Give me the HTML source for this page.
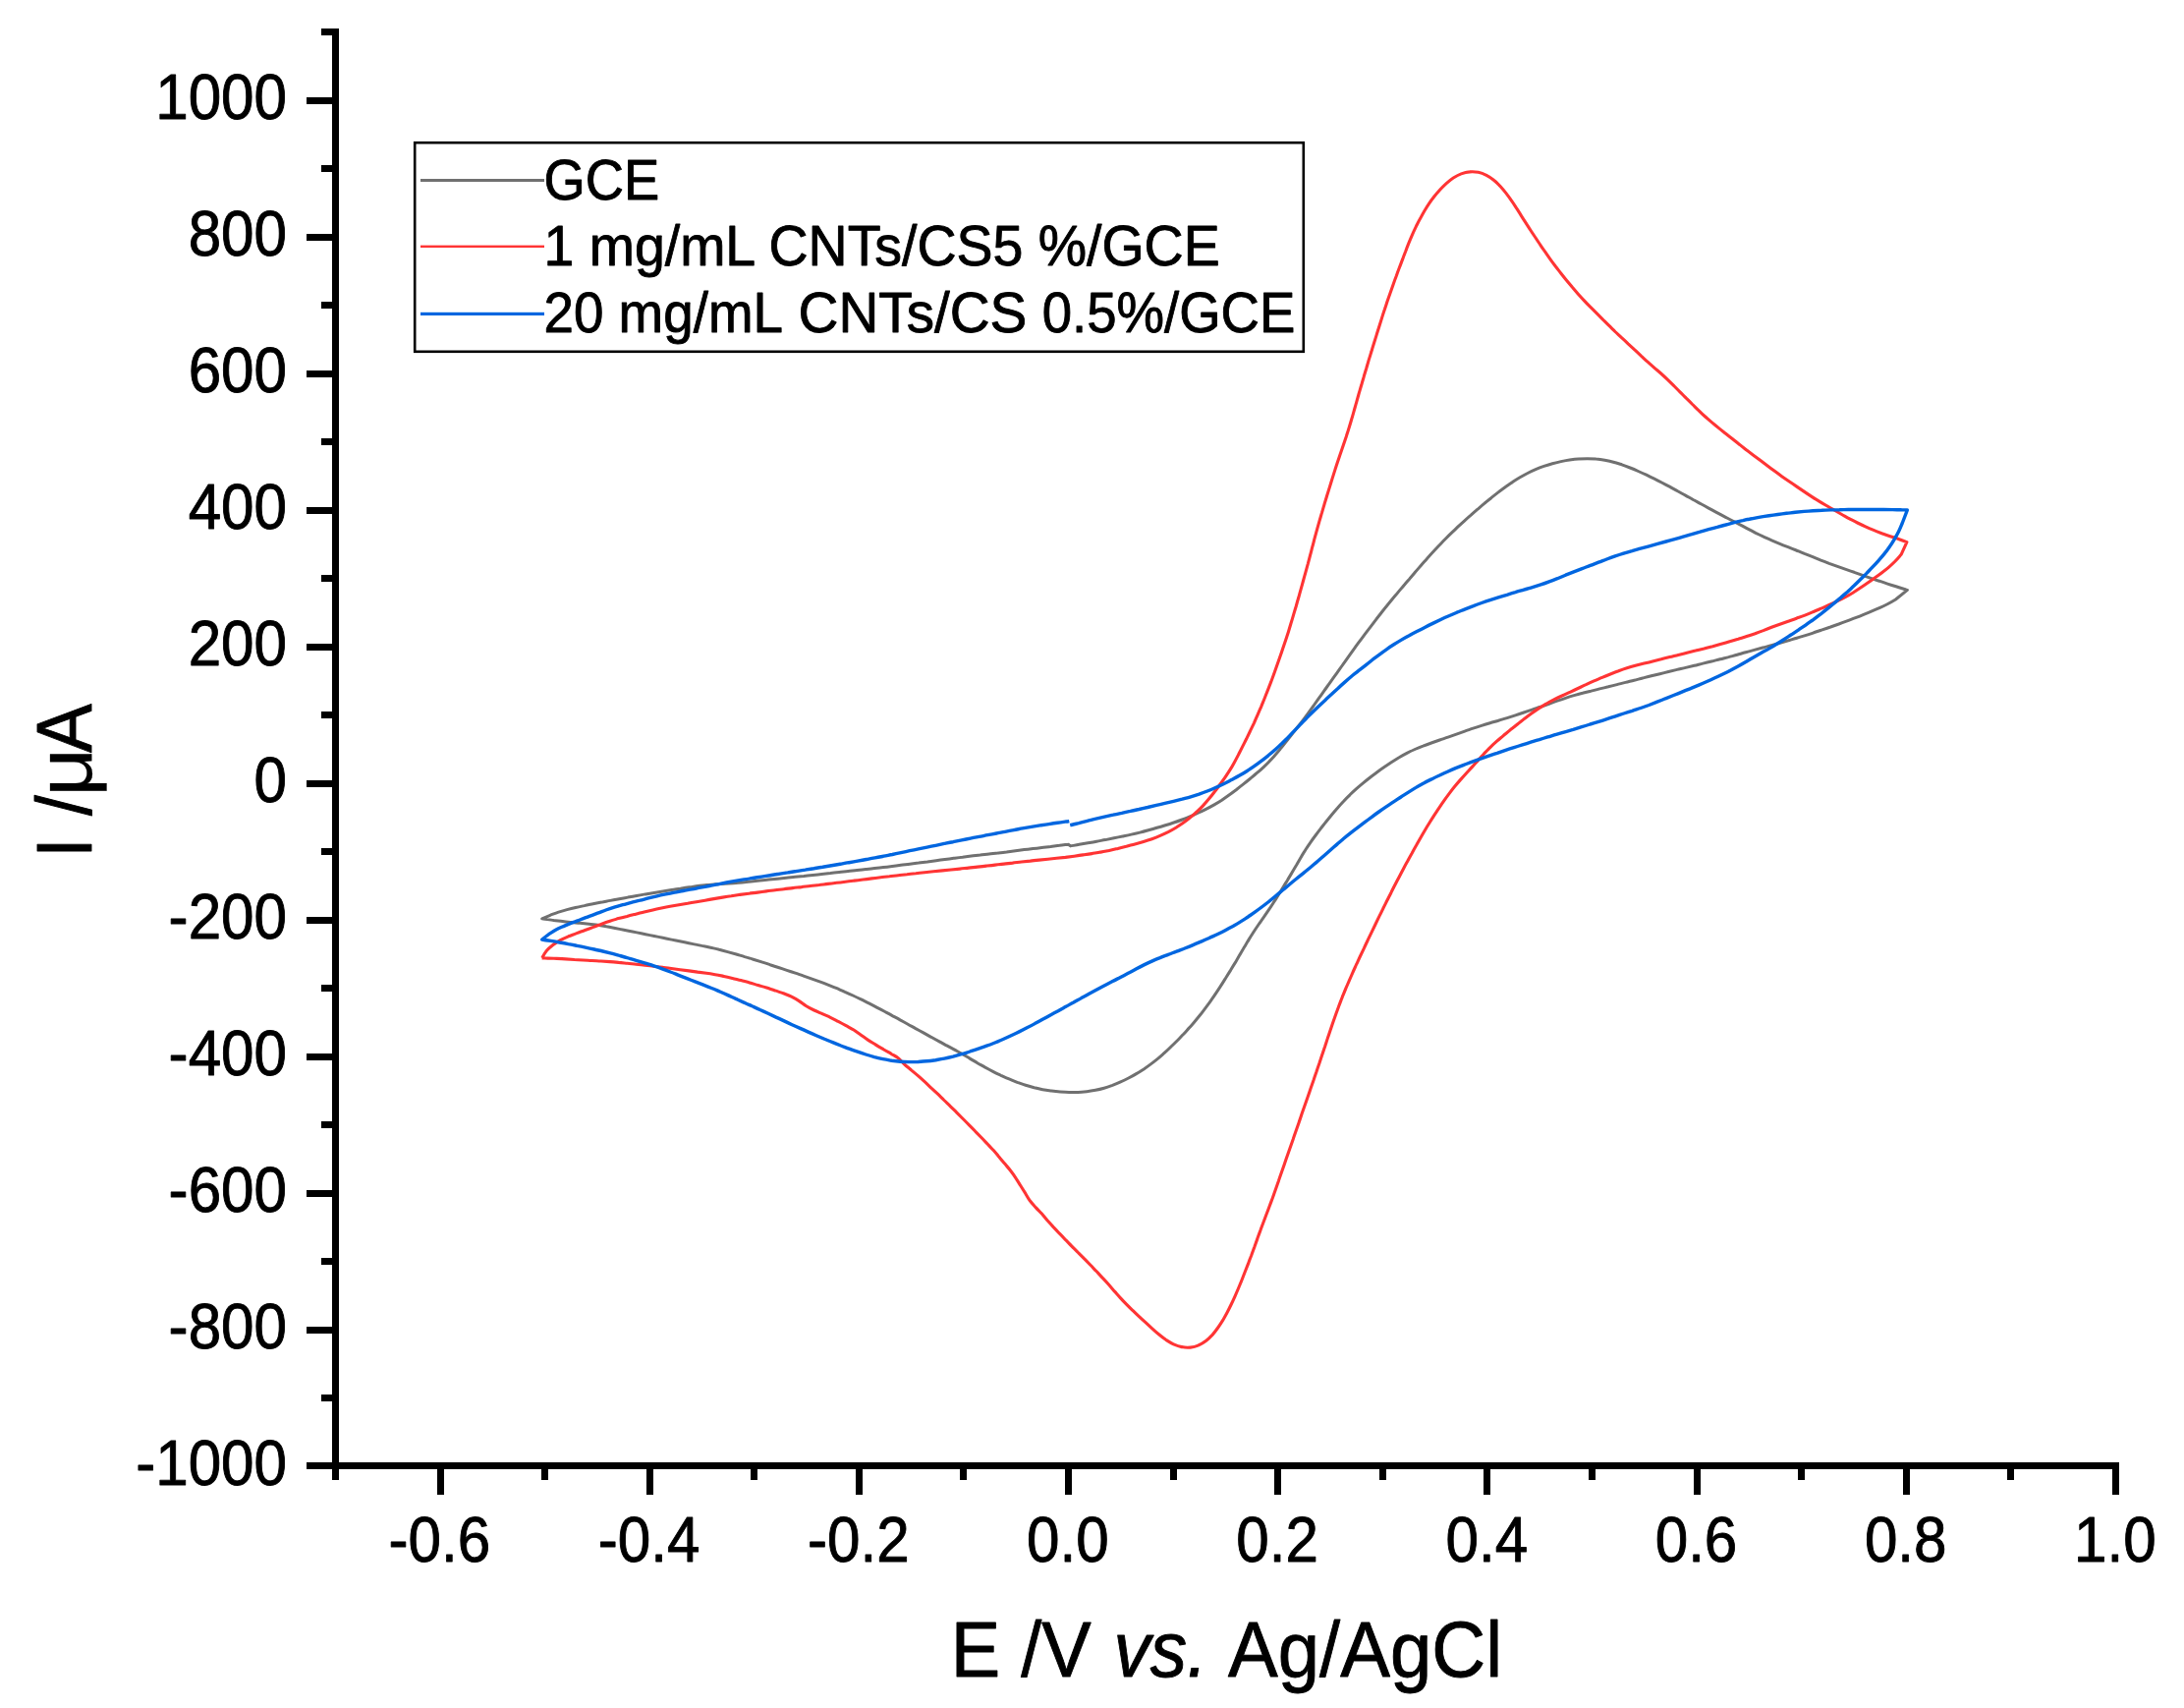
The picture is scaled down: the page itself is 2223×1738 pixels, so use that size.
<!DOCTYPE html><html><head><meta charset="utf-8"><title>CV</title>
<style>html,body{margin:0;padding:0;background:#fff}svg{display:block}text{font-family:"Liberation Sans",sans-serif;fill:#000;stroke:#000;stroke-width:0.9px;stroke-linejoin:round}</style></head><body>
<svg width="2223" height="1738" viewBox="0 0 2223 1738">
<rect width="2223" height="1738" fill="#fff"/>
<g fill="none" stroke-linejoin="round" stroke-linecap="butt">
<path d="M1089.6 860.9C1091.1 860.6 1095.5 859.9 1098.5 859.3C1101.4 858.8 1104.4 858.3 1107.3 857.8C1110.3 857.3 1113.3 856.8 1116.2 856.2C1119.2 855.7 1122.1 855.1 1125.1 854.6C1128.0 854.0 1130.9 853.4 1133.9 852.8C1136.8 852.2 1139.8 851.6 1142.7 851.0C1145.6 850.4 1148.6 849.8 1151.5 849.1C1154.4 848.5 1157.4 847.8 1160.3 847.1C1163.2 846.4 1166.1 845.6 1169.0 844.8C1171.9 844.0 1174.7 843.2 1177.6 842.3C1180.5 841.5 1183.4 840.6 1186.2 839.7C1189.1 838.9 1192.0 838.0 1194.8 837.0C1197.7 836.1 1200.5 835.1 1203.3 834.0C1206.1 833.0 1208.9 831.8 1211.7 830.7C1214.4 829.5 1217.2 828.3 1219.9 827.0C1222.6 825.8 1225.3 824.5 1228.0 823.1C1230.7 821.8 1233.3 820.4 1235.9 818.9C1238.5 817.4 1241.1 815.8 1243.6 814.2C1246.1 812.5 1248.5 810.8 1251.0 809.0C1253.4 807.3 1255.8 805.5 1258.2 803.7C1260.6 801.8 1262.9 800.0 1265.3 798.1C1267.6 796.3 1270.0 794.4 1272.3 792.5C1274.6 790.6 1277.0 788.7 1279.2 786.7C1281.5 784.8 1283.8 782.8 1285.9 780.8C1288.1 778.7 1290.3 776.6 1292.3 774.4C1294.4 772.3 1296.4 770.0 1298.4 767.8C1300.4 765.5 1302.3 763.2 1304.2 760.9C1306.1 758.6 1307.9 756.2 1309.8 753.8C1311.6 751.5 1313.5 749.1 1315.3 746.8C1317.2 744.4 1319.1 742.1 1320.9 739.7C1322.8 737.3 1324.6 735.0 1326.4 732.6C1328.2 730.2 1330.0 727.8 1331.8 725.3C1333.6 722.9 1335.3 720.5 1337.1 718.0C1338.8 715.6 1340.5 713.2 1342.3 710.7C1344.0 708.3 1345.8 705.8 1347.5 703.4C1349.2 700.9 1351.0 698.5 1352.7 696.1C1354.5 693.6 1356.2 691.2 1358.0 688.7C1359.7 686.3 1361.5 683.8 1363.2 681.4C1364.9 679.0 1366.7 676.5 1368.4 674.1C1370.2 671.6 1371.9 669.2 1373.7 666.7C1375.4 664.3 1377.1 661.9 1378.9 659.4C1380.6 657.0 1382.4 654.6 1384.2 652.1C1386.0 649.7 1387.8 647.3 1389.6 644.9C1391.4 642.5 1393.2 640.2 1395.0 637.8C1396.9 635.4 1398.7 633.0 1400.5 630.6C1402.3 628.2 1404.2 625.9 1406.0 623.5C1407.9 621.1 1409.7 618.8 1411.6 616.5C1413.5 614.1 1415.4 611.8 1417.3 609.5C1419.2 607.2 1421.2 604.9 1423.1 602.6C1425.0 600.3 1427.0 598.0 1428.9 595.7C1430.9 593.4 1432.8 591.1 1434.8 588.9C1436.7 586.6 1438.7 584.3 1440.6 582.0C1442.6 579.8 1444.5 577.5 1446.5 575.2C1448.5 573.0 1450.5 570.7 1452.5 568.5C1454.5 566.2 1456.4 564.0 1458.5 561.8C1460.5 559.6 1462.5 557.4 1464.6 555.2C1466.7 553.0 1468.8 550.9 1470.9 548.7C1473.0 546.6 1475.1 544.5 1477.3 542.4C1479.5 540.3 1481.6 538.3 1483.8 536.2C1486.0 534.2 1488.2 532.2 1490.5 530.1C1492.7 528.1 1494.9 526.1 1497.2 524.2C1499.4 522.2 1501.7 520.2 1504.0 518.2C1506.2 516.3 1508.5 514.3 1510.8 512.4C1513.1 510.5 1515.4 508.5 1517.8 506.7C1520.1 504.8 1522.4 502.9 1524.8 501.1C1527.2 499.3 1529.6 497.5 1532.0 495.7C1534.5 494.0 1536.9 492.2 1539.5 490.6C1542.0 488.9 1544.5 487.3 1547.1 485.8C1549.7 484.3 1552.3 482.8 1554.9 481.5C1557.6 480.1 1560.3 478.9 1563.1 477.7C1565.8 476.5 1568.6 475.4 1571.5 474.4C1574.3 473.5 1577.2 472.6 1580.1 471.8C1582.9 471.0 1585.9 470.2 1588.8 469.6C1591.7 469.0 1594.7 468.4 1597.6 468.0C1600.6 467.6 1603.6 467.2 1606.6 467.0C1609.6 466.8 1612.6 466.7 1615.6 466.7C1618.6 466.7 1621.6 466.8 1624.5 467.1C1627.5 467.3 1630.5 467.7 1633.4 468.2C1636.4 468.8 1639.3 469.4 1642.2 470.2C1645.1 471.0 1647.9 471.9 1650.8 472.8C1653.6 473.8 1656.4 474.9 1659.2 476.0C1662.0 477.1 1664.8 478.3 1667.5 479.5C1670.3 480.7 1673.0 481.9 1675.7 483.2C1678.4 484.5 1681.1 485.8 1683.8 487.1C1686.5 488.4 1689.2 489.8 1691.8 491.2C1694.5 492.6 1697.1 494.0 1699.8 495.4C1702.4 496.9 1705.1 498.3 1707.7 499.8C1710.3 501.2 1712.9 502.7 1715.6 504.1C1718.2 505.6 1720.8 507.0 1723.4 508.5C1726.1 509.9 1728.7 511.4 1731.3 512.8C1734.0 514.3 1736.6 515.7 1739.2 517.1C1741.9 518.6 1744.5 520.0 1747.1 521.4C1749.8 522.8 1752.5 524.2 1755.1 525.6C1757.8 527.0 1760.5 528.3 1763.1 529.7C1765.8 531.1 1768.5 532.4 1771.1 533.9C1773.8 535.3 1776.4 536.7 1779.0 538.1C1781.7 539.5 1784.3 540.9 1787.0 542.3C1789.7 543.6 1792.4 544.9 1795.1 546.2C1797.8 547.4 1800.6 548.7 1803.3 549.8C1806.1 551.0 1808.9 552.2 1811.6 553.3C1814.4 554.5 1817.2 555.6 1820.0 556.7C1822.8 557.8 1825.6 558.9 1828.4 560.0C1831.1 561.1 1833.9 562.2 1836.7 563.4C1839.5 564.5 1842.3 565.6 1845.1 566.7C1847.9 567.8 1850.6 569.0 1853.4 570.1C1856.2 571.1 1859.0 572.2 1861.8 573.3C1864.6 574.3 1867.5 575.4 1870.3 576.4C1873.1 577.4 1875.9 578.4 1878.8 579.4C1881.6 580.4 1884.4 581.4 1887.3 582.3C1890.1 583.3 1892.9 584.3 1895.8 585.3C1898.6 586.3 1901.4 587.3 1904.3 588.3C1907.1 589.3 1909.9 590.3 1912.8 591.2C1915.6 592.2 1918.5 593.2 1921.3 594.1C1924.2 595.0 1927.0 595.9 1929.9 596.8C1932.8 597.7 1936.6 598.9 1938.5 599.5C1940.4 600.1 1940.9 600.2 1941.4 600.4L1929.5 610.0C1928.2 610.8 1924.3 613.1 1921.6 614.5C1919.0 615.8 1916.3 617.1 1913.5 618.4C1910.8 619.6 1908.0 620.8 1905.3 621.9C1902.5 623.1 1899.7 624.2 1896.9 625.3C1894.1 626.5 1891.4 627.6 1888.6 628.7C1885.8 629.8 1883.0 630.8 1880.1 631.9C1877.3 632.9 1874.5 633.9 1871.7 635.0C1868.8 636.0 1866.0 637.0 1863.2 638.0C1860.3 638.9 1857.5 639.9 1854.7 640.9C1851.8 641.9 1849.0 642.9 1846.1 643.8C1843.3 644.8 1840.4 645.7 1837.6 646.6C1834.7 647.5 1831.8 648.3 1828.9 649.2C1826.1 650.1 1823.2 650.9 1820.3 651.8C1817.4 652.6 1814.6 653.5 1811.7 654.3C1808.8 655.1 1805.9 655.9 1803.0 656.7C1800.1 657.5 1797.2 658.2 1794.3 659.0C1791.4 659.8 1788.5 660.6 1785.6 661.4C1782.7 662.2 1779.8 663.0 1776.9 663.8C1774.0 664.6 1771.1 665.5 1768.3 666.3C1765.4 667.1 1762.5 667.8 1759.5 668.6C1756.6 669.3 1753.7 670.1 1750.8 670.8C1747.9 671.5 1745.0 672.3 1742.1 673.0C1739.2 673.7 1736.2 674.4 1733.3 675.1C1730.4 675.8 1727.5 676.6 1724.6 677.3C1721.6 678.0 1718.7 678.7 1715.8 679.4C1712.9 680.1 1710.0 680.7 1707.0 681.4C1704.1 682.1 1701.2 682.8 1698.3 683.5C1695.4 684.2 1692.4 685.0 1689.5 685.7C1686.6 686.4 1683.7 687.1 1680.8 687.8C1677.9 688.6 1674.9 689.3 1672.0 690.0C1669.1 690.7 1666.2 691.5 1663.3 692.2C1660.4 692.9 1657.5 693.7 1654.6 694.4C1651.6 695.1 1648.7 695.9 1645.8 696.6C1642.9 697.3 1640.0 698.0 1637.1 698.8C1634.2 699.5 1631.2 700.2 1628.3 700.9C1625.4 701.7 1622.5 702.4 1619.6 703.1C1616.7 703.8 1613.7 704.5 1610.8 705.3C1607.9 706.0 1605.0 706.8 1602.1 707.6C1599.3 708.4 1596.4 709.3 1593.5 710.3C1590.7 711.2 1587.9 712.2 1585.1 713.2C1582.2 714.3 1579.4 715.3 1576.6 716.3C1573.7 717.3 1570.9 718.3 1568.1 719.3C1565.2 720.2 1562.4 721.2 1559.5 722.1C1556.7 723.1 1553.8 724.1 1551.0 725.0C1548.2 726.0 1545.3 727.0 1542.5 727.9C1539.6 728.8 1536.7 729.7 1533.9 730.6C1531.0 731.5 1528.1 732.3 1525.2 733.2C1522.4 734.0 1519.5 734.9 1516.6 735.7C1513.7 736.6 1510.9 737.5 1508.0 738.4C1505.1 739.3 1502.3 740.2 1499.4 741.2C1496.6 742.2 1493.7 743.1 1490.9 744.1C1488.1 745.1 1485.2 746.1 1482.4 747.1C1479.6 748.1 1476.7 749.1 1473.9 750.1C1471.1 751.1 1468.2 752.0 1465.4 753.0C1462.5 754.0 1459.7 755.0 1456.9 756.0C1454.0 757.0 1451.2 758.0 1448.4 759.1C1445.6 760.1 1442.8 761.3 1440.1 762.5C1437.4 763.7 1434.7 765.0 1432.0 766.4C1429.3 767.8 1426.7 769.2 1424.1 770.8C1421.5 772.3 1419.0 773.9 1416.5 775.5C1414.0 777.2 1411.5 778.9 1409.0 780.6C1406.5 782.3 1404.1 784.0 1401.7 785.8C1399.2 787.6 1396.8 789.3 1394.4 791.2C1392.1 793.0 1389.7 794.9 1387.4 796.8C1385.1 798.7 1382.8 800.6 1380.6 802.6C1378.3 804.6 1376.1 806.7 1374.0 808.8C1371.8 810.9 1369.7 813.0 1367.7 815.2C1365.6 817.4 1363.6 819.6 1361.6 821.9C1359.7 824.1 1357.7 826.4 1355.8 828.7C1353.9 831.0 1352.0 833.4 1350.1 835.7C1348.2 838.0 1346.4 840.4 1344.5 842.8C1342.7 845.2 1340.9 847.6 1339.1 850.0C1337.3 852.4 1335.5 854.8 1333.8 857.3C1332.1 859.7 1330.4 862.2 1328.8 864.7C1327.2 867.3 1325.6 869.8 1324.1 872.4C1322.6 875.0 1321.1 877.6 1319.6 880.2C1318.0 882.8 1316.5 885.4 1315.0 888.0C1313.5 890.6 1311.9 893.1 1310.4 895.7C1308.8 898.3 1307.2 900.8 1305.7 903.4C1304.1 906.0 1302.5 908.5 1300.9 911.1C1299.4 913.6 1297.8 916.2 1296.1 918.7C1294.5 921.2 1292.9 923.7 1291.2 926.2C1289.5 928.7 1287.8 931.2 1286.1 933.6C1284.4 936.1 1282.6 938.5 1280.9 941.0C1279.2 943.5 1277.5 946.0 1275.9 948.5C1274.3 951.0 1272.7 953.5 1271.1 956.1C1269.5 958.7 1268.0 961.3 1266.5 963.8C1265.0 966.4 1263.5 969.0 1261.9 971.6C1260.4 974.2 1258.9 976.8 1257.4 979.4C1255.8 981.9 1254.2 984.5 1252.7 987.1C1251.1 989.6 1249.5 992.2 1247.9 994.7C1246.3 997.3 1244.8 999.8 1243.1 1002.4C1241.5 1004.9 1239.9 1007.4 1238.2 1009.9C1236.6 1012.4 1234.8 1014.9 1233.1 1017.3C1231.4 1019.8 1229.6 1022.2 1227.8 1024.6C1226.0 1027.0 1224.2 1029.4 1222.4 1031.8C1220.5 1034.1 1218.6 1036.5 1216.7 1038.8C1214.8 1041.1 1212.8 1043.3 1210.8 1045.6C1208.8 1047.8 1206.7 1050.0 1204.7 1052.2C1202.6 1054.4 1200.5 1056.5 1198.4 1058.7C1196.3 1060.8 1194.2 1062.9 1192.0 1065.0C1189.9 1067.1 1187.7 1069.2 1185.5 1071.2C1183.2 1073.2 1181.0 1075.2 1178.7 1077.1C1176.3 1079.0 1174.0 1080.9 1171.6 1082.6C1169.2 1084.4 1166.7 1086.2 1164.2 1087.9C1161.7 1089.5 1159.2 1091.1 1156.6 1092.6C1154.0 1094.2 1151.4 1095.6 1148.7 1097.0C1146.1 1098.4 1143.4 1099.7 1140.6 1100.9C1137.9 1102.2 1135.1 1103.3 1132.3 1104.4C1129.5 1105.4 1126.7 1106.4 1123.8 1107.2C1120.9 1108.0 1118.0 1108.7 1115.1 1109.3C1112.1 1109.9 1109.1 1110.4 1106.2 1110.7C1103.2 1111.0 1100.2 1111.3 1097.2 1111.4C1094.2 1111.5 1091.2 1111.5 1088.2 1111.4C1085.2 1111.4 1082.2 1111.2 1079.2 1111.0C1076.2 1110.8 1073.2 1110.5 1070.2 1110.1C1067.3 1109.7 1064.3 1109.3 1061.3 1108.7C1058.4 1108.1 1055.5 1107.5 1052.6 1106.8C1049.7 1106.0 1046.8 1105.2 1043.9 1104.3C1041.1 1103.4 1038.2 1102.3 1035.4 1101.3C1032.6 1100.2 1029.8 1099.1 1027.1 1097.9C1024.3 1096.8 1021.5 1095.5 1018.8 1094.3C1016.1 1093.0 1013.4 1091.7 1010.7 1090.3C1008.1 1088.9 1005.4 1087.5 1002.8 1086.1C1000.2 1084.6 997.5 1083.2 994.9 1081.7C992.3 1080.2 989.8 1078.6 987.2 1077.1C984.6 1075.6 982.0 1074.0 979.4 1072.5C976.8 1071.0 974.2 1069.6 971.5 1068.1C968.9 1066.7 966.3 1065.3 963.6 1063.9C961.0 1062.5 958.3 1061.1 955.7 1059.6C953.0 1058.2 950.4 1056.8 947.8 1055.3C945.1 1053.9 942.5 1052.4 939.9 1050.9C937.3 1049.5 934.6 1048.0 932.0 1046.6C929.4 1045.1 926.7 1043.7 924.1 1042.2C921.5 1040.8 918.8 1039.3 916.2 1037.9C913.6 1036.4 910.9 1035.0 908.3 1033.6C905.7 1032.1 903.0 1030.7 900.4 1029.3C897.7 1027.9 895.1 1026.5 892.4 1025.1C889.8 1023.7 887.1 1022.3 884.4 1020.9C881.7 1019.6 879.1 1018.2 876.4 1016.9C873.7 1015.6 871.0 1014.3 868.2 1013.0C865.5 1011.7 862.8 1010.5 860.0 1009.3C857.3 1008.0 854.5 1006.9 851.8 1005.7C849.0 1004.5 846.2 1003.4 843.4 1002.3C840.6 1001.2 837.8 1000.1 835.0 999.1C832.2 998.1 829.4 997.1 826.5 996.1C823.7 995.1 820.8 994.1 818.0 993.1C815.2 992.1 812.3 991.2 809.5 990.2C806.6 989.2 803.8 988.3 800.9 987.3C798.1 986.4 795.2 985.4 792.4 984.5C789.5 983.5 786.7 982.6 783.8 981.7C781.0 980.7 778.1 979.8 775.3 978.9C772.4 978.0 769.5 977.1 766.7 976.2C763.8 975.3 760.9 974.4 758.0 973.6C755.2 972.7 752.3 971.9 749.4 971.0C746.5 970.2 743.6 969.4 740.7 968.6C737.8 967.8 734.9 967.0 732.0 966.3C729.1 965.5 726.2 964.9 723.3 964.2C720.3 963.6 717.4 963.0 714.4 962.4C711.5 961.7 708.6 961.2 705.6 960.6C702.7 960.0 699.7 959.4 696.8 958.8C693.8 958.2 690.9 957.6 688.0 957.0C685.0 956.4 682.1 955.8 679.1 955.2C676.2 954.6 673.2 954.0 670.3 953.4C667.4 952.8 664.4 952.2 661.5 951.6C658.5 951.0 655.6 950.4 652.6 949.8C649.7 949.2 646.7 948.6 643.8 948.0C640.9 947.5 637.9 946.9 635.0 946.3C632.0 945.7 629.1 945.1 626.1 944.5C623.2 943.9 620.2 943.3 617.3 942.8C614.3 942.2 611.4 941.7 608.4 941.3C605.4 940.9 602.5 940.6 599.5 940.2C596.5 939.9 593.5 939.6 590.5 939.3C587.5 939.0 584.5 938.8 581.5 938.5C578.6 938.2 575.6 937.9 572.6 937.5C569.6 937.2 566.6 936.8 563.6 936.5C560.7 936.1 556.7 935.5 554.7 935.3C552.7 935.0 552.2 934.9 551.7 934.8L560.0 931.3C561.4 930.8 565.6 929.0 568.5 928.1C571.3 927.2 574.2 926.4 577.1 925.6C580.0 924.9 583.0 924.2 585.9 923.5C588.8 922.8 591.8 922.2 594.7 921.6C597.7 920.9 600.6 920.4 603.6 919.8C606.5 919.2 609.5 918.6 612.5 918.1C615.4 917.5 618.4 917.0 621.3 916.4C624.3 915.8 627.3 915.3 630.2 914.8C633.2 914.2 636.1 913.7 639.1 913.1C642.1 912.6 645.0 912.1 648.0 911.5C651.0 911.0 653.9 910.5 656.9 909.9C659.8 909.4 662.8 908.9 665.8 908.4C668.7 907.9 671.7 907.4 674.7 906.9C677.7 906.4 680.6 906.0 683.6 905.5C686.6 905.1 689.6 904.6 692.5 904.2C695.5 903.7 698.5 903.2 701.5 902.8C704.5 902.4 707.4 901.9 710.4 901.5C713.4 901.2 716.4 900.8 719.4 900.5C722.4 900.2 725.4 900.1 728.4 899.8C731.4 899.6 734.4 899.5 737.4 899.3C740.4 899.1 743.4 898.9 746.4 898.7C749.4 898.4 752.4 898.1 755.4 897.9C758.4 897.6 761.4 897.3 764.4 897.0C767.4 896.7 770.4 896.4 773.4 896.1C776.4 895.8 779.4 895.5 782.4 895.1C785.4 894.8 788.4 894.5 791.4 894.2C794.3 893.9 797.3 893.6 800.3 893.3C803.3 893.0 806.3 892.6 809.3 892.3C812.3 892.0 815.3 891.7 818.3 891.4C821.3 891.0 824.3 890.7 827.3 890.4C830.3 890.1 833.3 889.8 836.3 889.4C839.3 889.1 842.2 888.8 845.2 888.5C848.2 888.1 851.2 887.8 854.2 887.5C857.2 887.2 860.2 886.8 863.2 886.5C866.2 886.2 869.2 885.8 872.2 885.5C875.2 885.2 878.2 884.9 881.2 884.5C884.1 884.2 887.1 883.9 890.1 883.5C893.1 883.2 896.1 882.9 899.1 882.5C902.1 882.2 905.1 881.8 908.1 881.4C911.1 881.1 914.1 880.7 917.0 880.3C920.0 879.9 923.0 879.6 926.0 879.2C929.0 878.8 932.0 878.4 935.0 878.1C937.9 877.7 940.9 877.3 943.9 876.9C946.9 876.5 949.9 876.1 952.9 875.7C955.9 875.3 958.8 874.9 961.8 874.5C964.8 874.1 967.8 873.7 970.8 873.3C973.8 872.9 976.7 872.5 979.7 872.2C982.7 871.8 985.7 871.4 988.7 871.1C991.7 870.8 994.7 870.4 997.7 870.1C1000.7 869.7 1003.7 869.4 1006.7 869.0C1009.6 868.7 1012.6 868.3 1015.6 868.0C1018.6 867.6 1021.6 867.2 1024.6 866.9C1027.6 866.5 1030.6 866.1 1033.6 865.7C1036.5 865.4 1039.5 865.0 1042.5 864.6C1045.5 864.3 1048.5 863.9 1051.5 863.5C1054.5 863.2 1057.5 862.8 1060.4 862.4C1063.4 862.1 1066.4 861.7 1069.4 861.4C1072.4 861.0 1075.4 860.6 1078.4 860.3C1081.4 859.9 1085.9 859.4 1087.4 859.2Z" stroke="#707070" stroke-width="3.0"/>
<path d="M551.7 974.9C552.5 973.7 554.4 969.6 556.3 967.4C558.2 965.2 560.6 963.3 562.9 961.5C565.3 959.7 567.8 958.1 570.4 956.6C573.1 955.2 575.8 954.0 578.6 952.8C581.4 951.7 584.2 950.7 587.0 949.6C589.8 948.5 592.7 947.6 595.5 946.5C598.3 945.5 601.2 944.4 604.0 943.4C606.8 942.3 609.6 941.3 612.4 940.2C615.2 939.2 618.1 938.2 620.9 937.3C623.8 936.3 626.6 935.5 629.5 934.6C632.4 933.8 635.3 933.1 638.2 932.4C641.1 931.6 644.1 930.9 647.0 930.2C649.9 929.5 652.8 928.7 655.7 928.0C658.6 927.3 661.6 926.6 664.5 925.9C667.4 925.2 670.3 924.6 673.3 924.0C676.2 923.4 679.2 922.8 682.1 922.3C685.1 921.8 688.1 921.3 691.0 920.8C694.0 920.3 696.9 919.8 699.9 919.3C702.9 918.7 705.8 918.2 708.8 917.7C711.7 917.2 714.7 916.7 717.7 916.2C720.6 915.7 723.6 915.1 726.5 914.6C729.5 914.1 732.5 913.6 735.4 913.1C738.4 912.6 741.4 912.1 744.3 911.7C747.3 911.2 750.3 910.8 753.2 910.4C756.2 910.0 759.2 909.6 762.2 909.2C765.2 908.8 768.1 908.5 771.1 908.1C774.1 907.7 777.1 907.3 780.1 906.9C783.0 906.5 786.0 906.2 789.0 905.8C792.0 905.4 795.0 905.1 797.9 904.7C800.9 904.3 803.9 904.0 806.9 903.6C809.9 903.3 812.9 902.9 815.8 902.6C818.8 902.2 821.8 901.9 824.8 901.5C827.8 901.2 830.8 900.8 833.7 900.5C836.7 900.1 839.7 899.8 842.7 899.4C845.7 899.1 848.7 898.7 851.6 898.3C854.6 898.0 857.6 897.6 860.6 897.2C863.6 896.9 866.5 896.5 869.5 896.1C872.5 895.8 875.5 895.4 878.5 895.0C881.4 894.7 884.4 894.3 887.4 893.9C890.4 893.6 893.4 893.2 896.4 892.8C899.3 892.5 902.3 892.1 905.3 891.8C908.3 891.4 911.3 891.1 914.3 890.7C917.2 890.4 920.2 890.0 923.2 889.7C926.2 889.3 929.2 889.0 932.2 888.7C935.2 888.3 938.1 888.0 941.1 887.7C944.1 887.4 947.1 887.1 950.1 886.8C953.1 886.5 956.1 886.2 959.1 885.9C962.0 885.6 965.0 885.3 968.0 885.0C971.0 884.7 974.0 884.4 977.0 884.1C980.0 883.8 983.0 883.4 985.9 883.1C988.9 882.8 991.9 882.4 994.9 882.1C997.9 881.8 1000.9 881.5 1003.9 881.1C1006.8 880.8 1009.8 880.5 1012.8 880.1C1015.8 879.8 1018.8 879.5 1021.8 879.1C1024.8 878.8 1027.7 878.4 1030.7 878.1C1033.7 877.7 1036.7 877.4 1039.7 877.0C1042.7 876.7 1045.7 876.4 1048.6 876.1C1051.6 875.7 1054.6 875.4 1057.6 875.1C1060.6 874.8 1063.6 874.5 1066.6 874.2C1069.6 873.9 1072.5 873.6 1075.5 873.3C1078.5 873.0 1081.5 872.7 1084.5 872.4C1087.5 872.0 1090.5 871.6 1093.4 871.2C1096.4 870.8 1099.4 870.4 1102.4 869.9C1105.3 869.5 1108.3 869.1 1111.3 868.6C1114.2 868.1 1117.2 867.7 1120.2 867.1C1123.1 866.6 1126.0 866.0 1129.0 865.4C1131.9 864.8 1134.8 864.1 1137.8 863.4C1140.7 862.6 1143.6 861.9 1146.5 861.2C1149.4 860.4 1152.3 859.7 1155.2 858.9C1158.1 858.2 1161.0 857.4 1163.9 856.5C1166.8 855.6 1169.6 854.7 1172.5 853.7C1175.3 852.7 1178.1 851.6 1180.8 850.4C1183.6 849.2 1186.3 847.9 1189.0 846.6C1191.7 845.2 1194.3 843.8 1196.9 842.2C1199.4 840.7 1201.9 839.0 1204.4 837.3C1206.8 835.6 1209.2 833.7 1211.5 831.8C1213.9 830.0 1216.2 828.0 1218.3 825.9C1220.5 823.9 1222.7 821.8 1224.7 819.6C1226.7 817.4 1228.7 815.1 1230.6 812.8C1232.5 810.5 1234.4 808.1 1236.2 805.7C1238.1 803.4 1239.9 800.9 1241.6 798.5C1243.4 796.1 1245.2 793.7 1246.9 791.2C1248.6 788.7 1250.2 786.2 1251.8 783.7C1253.4 781.1 1254.9 778.5 1256.3 775.9C1257.8 773.3 1259.2 770.6 1260.6 767.9C1261.9 765.3 1263.3 762.6 1264.6 759.9C1266.0 757.2 1267.3 754.5 1268.7 751.8C1270.0 749.1 1271.3 746.4 1272.6 743.7C1273.9 741.0 1275.2 738.3 1276.5 735.6C1277.7 732.8 1278.9 730.1 1280.1 727.3C1281.3 724.6 1282.5 721.8 1283.7 719.1C1284.8 716.3 1286.0 713.5 1287.1 710.7C1288.2 707.9 1289.3 705.2 1290.4 702.4C1291.5 699.6 1292.6 696.8 1293.7 693.9C1294.7 691.1 1295.8 688.3 1296.8 685.5C1297.8 682.7 1298.8 679.8 1299.8 677.0C1300.8 674.2 1301.8 671.3 1302.8 668.5C1303.8 665.7 1304.8 662.8 1305.7 660.0C1306.7 657.1 1307.6 654.3 1308.6 651.4C1309.5 648.6 1310.5 645.7 1311.4 642.9C1312.3 640.0 1313.2 637.1 1314.0 634.3C1314.9 631.4 1315.8 628.5 1316.6 625.6C1317.5 622.7 1318.3 619.9 1319.2 617.0C1320.0 614.1 1320.8 611.2 1321.7 608.3C1322.5 605.4 1323.3 602.5 1324.1 599.6C1324.9 596.7 1325.7 593.9 1326.5 591.0C1327.3 588.1 1328.1 585.2 1328.9 582.3C1329.7 579.4 1330.5 576.5 1331.3 573.6C1332.1 570.7 1332.9 567.8 1333.6 564.9C1334.4 562.0 1335.1 559.1 1335.9 556.2C1336.7 553.3 1337.4 550.3 1338.2 547.4C1339.0 544.5 1339.8 541.6 1340.6 538.7C1341.4 535.9 1342.2 533.0 1343.0 530.1C1343.9 527.2 1344.7 524.3 1345.6 521.4C1346.4 518.5 1347.3 515.7 1348.1 512.8C1349.0 509.9 1349.9 507.0 1350.7 504.2C1351.6 501.3 1352.5 498.4 1353.4 495.6C1354.3 492.7 1355.2 489.8 1356.1 486.9C1357.0 484.1 1357.9 481.2 1358.8 478.4C1359.7 475.5 1360.7 472.7 1361.6 469.8C1362.6 467.0 1363.5 464.1 1364.5 461.3C1365.5 458.4 1366.4 455.6 1367.4 452.7C1368.4 449.9 1369.3 447.0 1370.3 444.2C1371.2 441.3 1372.2 438.5 1373.0 435.6C1373.9 432.7 1374.8 429.9 1375.6 427.0C1376.5 424.1 1377.3 421.2 1378.1 418.3C1378.9 415.4 1379.8 412.5 1380.6 409.6C1381.4 406.8 1382.2 403.9 1383.0 401.0C1383.9 398.1 1384.7 395.2 1385.6 392.3C1386.4 389.4 1387.2 386.6 1388.1 383.7C1388.9 380.8 1389.8 377.9 1390.7 375.0C1391.5 372.2 1392.4 369.3 1393.2 366.4C1394.1 363.5 1395.0 360.7 1395.9 357.8C1396.7 354.9 1397.6 352.0 1398.5 349.2C1399.4 346.3 1400.3 343.4 1401.2 340.6C1402.1 337.7 1403.0 334.8 1403.9 332.0C1404.8 329.1 1405.7 326.2 1406.6 323.4C1407.5 320.5 1408.4 317.7 1409.4 314.8C1410.3 311.9 1411.3 309.1 1412.2 306.3C1413.2 303.4 1414.2 300.6 1415.2 297.7C1416.2 294.9 1417.2 292.1 1418.2 289.2C1419.2 286.4 1420.2 283.6 1421.3 280.8C1422.3 277.9 1423.3 275.1 1424.4 272.3C1425.5 269.5 1426.5 266.7 1427.6 263.9C1428.6 261.1 1429.7 258.3 1430.8 255.5C1431.8 252.7 1432.9 249.8 1434.0 247.1C1435.2 244.3 1436.3 241.5 1437.5 238.8C1438.7 236.0 1440.0 233.3 1441.3 230.6C1442.7 227.9 1444.0 225.2 1445.5 222.6C1446.9 219.9 1448.3 217.3 1449.8 214.7C1451.4 212.1 1452.9 209.6 1454.6 207.1C1456.3 204.6 1458.1 202.2 1460.0 199.8C1461.8 197.5 1463.8 195.2 1465.8 193.0C1467.9 190.7 1470.0 188.6 1472.2 186.6C1474.5 184.6 1476.8 182.6 1479.3 181.0C1481.9 179.4 1484.5 177.9 1487.3 176.9C1490.0 175.9 1493.0 175.1 1495.9 174.9C1498.8 174.6 1501.8 174.8 1504.7 175.3C1507.5 175.9 1510.3 177.0 1513.0 178.3C1515.6 179.6 1518.1 181.4 1520.4 183.3C1522.7 185.1 1524.9 187.3 1527.0 189.5C1529.0 191.7 1530.9 194.0 1532.8 196.4C1534.7 198.8 1536.4 201.2 1538.1 203.7C1539.9 206.2 1541.5 208.7 1543.1 211.2C1544.8 213.7 1546.4 216.3 1548.0 218.8C1549.6 221.4 1551.2 223.9 1552.8 226.4C1554.4 229.0 1556.1 231.5 1557.7 234.0C1559.3 236.5 1561.0 239.0 1562.7 241.5C1564.3 244.0 1566.0 246.5 1567.7 249.0C1569.4 251.5 1571.1 254.0 1572.8 256.4C1574.5 258.9 1576.2 261.3 1578.0 263.8C1579.7 266.2 1581.5 268.6 1583.3 271.0C1585.2 273.4 1587.0 275.8 1588.9 278.2C1590.7 280.5 1592.6 282.9 1594.5 285.2C1596.4 287.5 1598.3 289.8 1600.2 292.1C1602.2 294.4 1604.1 296.7 1606.1 299.0C1608.1 301.2 1610.1 303.4 1612.2 305.6C1614.2 307.8 1616.3 309.9 1618.5 312.1C1620.6 314.2 1622.7 316.3 1624.8 318.4C1627.0 320.6 1629.1 322.7 1631.2 324.8C1633.3 326.9 1635.4 329.1 1637.6 331.2C1639.7 333.3 1641.9 335.4 1644.0 337.5C1646.2 339.6 1648.4 341.6 1650.6 343.7C1652.8 345.7 1655.0 347.7 1657.2 349.8C1659.4 351.8 1661.6 353.8 1663.8 355.9C1666.0 357.9 1668.2 360.0 1670.4 362.1C1672.6 364.1 1674.7 366.2 1677.0 368.2C1679.2 370.2 1681.5 372.1 1683.7 374.1C1686.0 376.1 1688.3 378.0 1690.6 380.0C1692.8 382.0 1695.0 384.0 1697.2 386.1C1699.4 388.2 1701.5 390.3 1703.6 392.4C1705.7 394.5 1707.8 396.7 1710.0 398.8C1712.1 400.9 1714.2 403.1 1716.3 405.2C1718.5 407.3 1720.6 409.4 1722.7 411.5C1724.9 413.6 1727.0 415.8 1729.2 417.8C1731.3 419.9 1733.5 422.0 1735.7 424.0C1738.0 426.0 1740.2 428.0 1742.5 429.9C1744.8 431.8 1747.2 433.7 1749.5 435.6C1751.8 437.5 1754.2 439.3 1756.6 441.2C1758.9 443.1 1761.3 445.0 1763.6 446.8C1766.0 448.7 1768.3 450.6 1770.7 452.4C1773.0 454.3 1775.4 456.1 1777.8 458.0C1780.2 459.8 1782.6 461.6 1785.0 463.4C1787.4 465.2 1789.8 467.0 1792.2 468.8C1794.6 470.6 1797.0 472.4 1799.4 474.2C1801.8 476.0 1804.2 477.8 1806.6 479.6C1809.0 481.4 1811.5 483.2 1813.9 484.9C1816.4 486.6 1818.8 488.3 1821.3 490.0C1823.8 491.7 1826.3 493.4 1828.8 495.1C1831.3 496.8 1833.8 498.5 1836.2 500.1C1838.7 501.8 1841.2 503.5 1843.7 505.1C1846.3 506.8 1848.8 508.4 1851.3 509.9C1853.9 511.5 1856.5 513.0 1859.1 514.5C1861.7 516.1 1864.3 517.5 1866.9 519.0C1869.5 520.5 1872.1 522.0 1874.7 523.5C1877.4 525.0 1880.0 526.5 1882.6 527.9C1885.3 529.3 1887.9 530.7 1890.6 532.0C1893.3 533.3 1896.0 534.6 1898.8 535.8C1901.5 537.1 1904.3 538.3 1907.0 539.4C1909.8 540.6 1912.6 541.7 1915.4 542.8C1918.2 543.8 1921.0 544.8 1923.9 545.7C1926.7 546.7 1929.6 547.5 1932.4 548.5C1935.3 549.5 1939.5 551.1 1940.9 551.7L1935.1 564.3C1934.1 565.4 1931.2 568.8 1929.1 571.0C1927.0 573.1 1924.8 575.2 1922.6 577.1C1920.3 579.1 1917.9 580.9 1915.5 582.7C1913.1 584.5 1910.7 586.3 1908.2 588.0C1905.8 589.7 1903.3 591.5 1900.8 593.2C1898.4 594.9 1895.9 596.6 1893.4 598.3C1890.9 600.0 1888.5 601.6 1885.9 603.2C1883.3 604.8 1880.7 606.3 1878.1 607.7C1875.5 609.1 1872.8 610.4 1870.1 611.7C1867.4 613.1 1864.7 614.3 1861.9 615.5C1859.2 616.8 1856.4 618.0 1853.7 619.2C1850.9 620.4 1848.2 621.6 1845.4 622.7C1842.6 623.9 1839.9 625.0 1837.1 626.1C1834.3 627.2 1831.4 628.2 1828.6 629.2C1825.8 630.3 1823.0 631.2 1820.1 632.2C1817.3 633.2 1814.4 634.2 1811.6 635.2C1808.8 636.2 1806.0 637.2 1803.2 638.3C1800.4 639.4 1797.6 640.5 1794.8 641.6C1792.0 642.6 1789.2 643.7 1786.4 644.8C1783.6 645.8 1780.7 646.7 1777.9 647.6C1775.0 648.6 1772.1 649.4 1769.3 650.3C1766.4 651.1 1763.5 652.0 1760.6 652.8C1757.7 653.7 1754.9 654.5 1752.0 655.3C1749.1 656.1 1746.2 656.9 1743.3 657.7C1740.4 658.4 1737.5 659.1 1734.5 659.9C1731.6 660.6 1728.7 661.3 1725.8 662.1C1722.9 662.8 1720.0 663.5 1717.1 664.2C1714.1 665.0 1711.2 665.7 1708.3 666.4C1705.4 667.1 1702.5 667.9 1699.6 668.6C1696.7 669.3 1693.8 670.0 1690.8 670.8C1687.9 671.5 1685.0 672.2 1682.1 672.9C1679.2 673.7 1676.3 674.4 1673.4 675.1C1670.4 675.8 1667.5 676.5 1664.6 677.3C1661.7 678.1 1658.9 678.9 1656.0 679.8C1653.1 680.7 1650.3 681.7 1647.5 682.8C1644.7 683.8 1641.9 684.9 1639.1 686.0C1636.3 687.1 1633.5 688.2 1630.8 689.4C1628.0 690.6 1625.2 691.7 1622.5 692.9C1619.7 694.1 1617.0 695.4 1614.3 696.7C1611.6 697.9 1608.9 699.2 1606.1 700.5C1603.4 701.8 1600.7 703.1 1598.0 704.3C1595.3 705.5 1592.5 706.7 1589.8 708.0C1587.0 709.2 1584.3 710.5 1581.7 711.8C1579.0 713.2 1576.4 714.6 1573.8 716.2C1571.2 717.7 1568.7 719.3 1566.2 720.9C1563.7 722.6 1561.2 724.3 1558.8 726.0C1556.3 727.8 1553.9 729.6 1551.5 731.4C1549.2 733.3 1546.8 735.1 1544.5 737.0C1542.1 738.9 1539.8 740.8 1537.4 742.6C1535.1 744.5 1532.8 746.4 1530.5 748.3C1528.2 750.3 1525.9 752.2 1523.6 754.2C1521.4 756.2 1519.2 758.2 1517.0 760.3C1514.9 762.4 1512.8 764.6 1510.7 766.7C1508.7 768.9 1506.7 771.2 1504.7 773.4C1502.7 775.6 1500.7 777.9 1498.7 780.1C1496.7 782.4 1494.6 784.6 1492.6 786.8C1490.6 789.0 1488.6 791.2 1486.6 793.4C1484.6 795.7 1482.6 798.0 1480.7 800.3C1478.8 802.6 1477.0 805.0 1475.2 807.4C1473.4 809.8 1471.6 812.2 1469.9 814.7C1468.2 817.1 1466.5 819.6 1464.8 822.1C1463.1 824.6 1461.5 827.1 1459.8 829.6C1458.2 832.1 1456.6 834.6 1455.0 837.2C1453.4 839.7 1451.8 842.3 1450.3 844.9C1448.8 847.4 1447.3 850.0 1445.8 852.7C1444.3 855.3 1442.8 857.9 1441.4 860.5C1439.9 863.1 1438.4 865.8 1437.0 868.4C1435.5 871.0 1434.1 873.6 1432.7 876.3C1431.2 878.9 1429.8 881.5 1428.4 884.2C1427.0 886.8 1425.6 889.5 1424.2 892.2C1422.8 894.8 1421.4 897.5 1420.0 900.2C1418.7 902.8 1417.3 905.5 1416.0 908.2C1414.6 910.9 1413.3 913.6 1411.9 916.3C1410.6 918.9 1409.3 921.6 1407.9 924.3C1406.6 927.0 1405.3 929.7 1403.9 932.4C1402.6 935.1 1401.3 937.8 1400.0 940.5C1398.7 943.2 1397.4 945.9 1396.1 948.6C1394.8 951.3 1393.5 954.0 1392.2 956.7C1390.9 959.4 1389.6 962.1 1388.4 964.9C1387.1 967.6 1385.8 970.3 1384.5 973.0C1383.2 975.7 1382.0 978.4 1380.7 981.2C1379.5 983.9 1378.2 986.6 1377.0 989.4C1375.8 992.1 1374.6 994.9 1373.4 997.6C1372.2 1000.4 1371.0 1003.1 1369.8 1005.9C1368.7 1008.7 1367.6 1011.5 1366.4 1014.2C1365.3 1017.0 1364.3 1019.8 1363.2 1022.6C1362.2 1025.5 1361.1 1028.3 1360.1 1031.1C1359.1 1033.9 1358.1 1036.8 1357.1 1039.6C1356.1 1042.4 1355.2 1045.3 1354.2 1048.1C1353.2 1051.0 1352.3 1053.8 1351.3 1056.6C1350.4 1059.5 1349.4 1062.3 1348.5 1065.2C1347.5 1068.0 1346.6 1070.9 1345.6 1073.7C1344.7 1076.6 1343.7 1079.4 1342.8 1082.3C1341.8 1085.1 1340.8 1088.0 1339.9 1090.8C1338.9 1093.6 1337.9 1096.5 1337.0 1099.3C1336.0 1102.2 1335.0 1105.0 1334.0 1107.8C1333.1 1110.7 1332.1 1113.5 1331.1 1116.3C1330.1 1119.2 1329.1 1122.0 1328.1 1124.8C1327.1 1127.7 1326.1 1130.5 1325.1 1133.3C1324.2 1136.2 1323.2 1139.0 1322.2 1141.9C1321.2 1144.7 1320.2 1147.5 1319.2 1150.4C1318.2 1153.2 1317.2 1156.0 1316.3 1158.9C1315.3 1161.7 1314.3 1164.5 1313.3 1167.4C1312.3 1170.2 1311.3 1173.0 1310.3 1175.9C1309.3 1178.7 1308.4 1181.5 1307.4 1184.4C1306.4 1187.2 1305.4 1190.0 1304.4 1192.9C1303.4 1195.7 1302.4 1198.5 1301.5 1201.4C1300.5 1204.2 1299.5 1207.1 1298.5 1209.9C1297.5 1212.7 1296.5 1215.6 1295.5 1218.4C1294.5 1221.2 1293.4 1224.0 1292.4 1226.8C1291.4 1229.6 1290.3 1232.5 1289.2 1235.3C1288.1 1238.1 1287.1 1240.9 1286.0 1243.7C1284.9 1246.5 1283.9 1249.3 1282.9 1252.1C1281.8 1254.9 1280.8 1257.8 1279.8 1260.6C1278.8 1263.4 1277.8 1266.2 1276.8 1269.1C1275.7 1271.9 1274.7 1274.7 1273.7 1277.5C1272.6 1280.3 1271.5 1283.1 1270.5 1285.9C1269.4 1288.7 1268.3 1291.5 1267.2 1294.3C1266.1 1297.1 1265.0 1299.9 1263.9 1302.7C1262.8 1305.5 1261.6 1308.3 1260.5 1311.0C1259.3 1313.8 1258.1 1316.6 1256.9 1319.3C1255.7 1322.0 1254.4 1324.8 1253.1 1327.5C1251.8 1330.2 1250.5 1332.9 1249.1 1335.5C1247.7 1338.2 1246.2 1340.8 1244.7 1343.4C1243.1 1346.0 1241.5 1348.5 1239.7 1351.0C1238.0 1353.4 1236.2 1355.9 1234.2 1358.1C1232.1 1360.3 1230.0 1362.5 1227.7 1364.3C1225.3 1366.1 1222.8 1367.7 1220.1 1368.8C1217.4 1370.0 1214.5 1370.8 1211.6 1371.1C1208.8 1371.4 1205.7 1371.2 1202.9 1370.6C1200.0 1370.1 1197.2 1369.0 1194.5 1367.8C1191.8 1366.6 1189.2 1364.9 1186.7 1363.3C1184.2 1361.6 1181.8 1359.7 1179.5 1357.8C1177.2 1355.9 1174.9 1353.8 1172.7 1351.8C1170.4 1349.8 1168.2 1347.8 1166.0 1345.7C1163.8 1343.7 1161.6 1341.7 1159.4 1339.6C1157.2 1337.6 1155.0 1335.5 1152.9 1333.4C1150.7 1331.3 1148.6 1329.3 1146.5 1327.1C1144.4 1325.0 1142.3 1322.8 1140.3 1320.6C1138.2 1318.4 1136.3 1316.1 1134.3 1313.9C1132.3 1311.6 1130.3 1309.3 1128.4 1307.1C1126.4 1304.8 1124.4 1302.6 1122.3 1300.4C1120.3 1298.2 1118.2 1296.0 1116.2 1293.8C1114.1 1291.6 1112.0 1289.5 1109.9 1287.3C1107.9 1285.2 1105.8 1283.0 1103.7 1280.9C1101.6 1278.7 1099.4 1276.6 1097.3 1274.5C1095.2 1272.4 1093.0 1270.3 1090.9 1268.1C1088.8 1266.0 1086.7 1263.8 1084.6 1261.7C1082.6 1259.5 1080.5 1257.3 1078.4 1255.2C1076.4 1253.0 1074.3 1250.8 1072.2 1248.6C1070.2 1246.4 1068.2 1244.2 1066.2 1242.0C1064.2 1239.7 1062.4 1237.3 1060.4 1235.0C1058.4 1232.8 1056.2 1230.8 1054.2 1228.6C1052.2 1226.4 1050.1 1224.2 1048.3 1221.8C1046.6 1219.4 1045.1 1216.7 1043.6 1214.1C1042.0 1211.6 1040.4 1209.1 1038.8 1206.5C1037.2 1204.0 1035.7 1201.4 1034.0 1198.9C1032.4 1196.4 1030.7 1193.9 1028.8 1191.5C1027.0 1189.1 1025.0 1186.9 1023.1 1184.6C1021.2 1182.3 1019.2 1180.0 1017.3 1177.7C1015.4 1175.4 1013.5 1173.1 1011.5 1170.8C1009.5 1168.6 1007.3 1166.5 1005.3 1164.3C1003.2 1162.1 1001.1 1160.0 999.1 1157.8C997.0 1155.6 994.9 1153.4 992.8 1151.3C990.7 1149.1 988.6 1147.0 986.5 1144.9C984.4 1142.7 982.3 1140.6 980.2 1138.5C978.0 1136.3 975.9 1134.2 973.8 1132.1C971.7 1130.0 969.5 1127.9 967.4 1125.8C965.2 1123.7 963.1 1121.6 960.9 1119.5C958.8 1117.4 956.6 1115.3 954.5 1113.2C952.3 1111.1 950.1 1109.1 947.9 1107.1C945.7 1105.0 943.6 1102.9 941.4 1100.9C939.1 1098.9 936.9 1096.8 934.7 1094.9C932.4 1092.9 930.1 1091.0 927.8 1089.1C925.5 1087.1 923.1 1085.3 920.9 1083.3C918.7 1081.3 916.8 1078.8 914.5 1076.9C912.2 1075.1 909.5 1073.8 906.9 1072.2C904.3 1070.7 901.7 1069.3 899.1 1067.7C896.5 1066.2 893.9 1064.7 891.4 1063.1C888.8 1061.5 886.2 1060.0 883.7 1058.4C881.2 1056.7 878.8 1054.9 876.4 1053.2C873.9 1051.5 871.5 1049.6 869.0 1048.0C866.4 1046.4 863.8 1045.1 861.1 1043.6C858.5 1042.2 855.8 1040.8 853.2 1039.4C850.5 1038.0 847.9 1036.6 845.2 1035.3C842.5 1034.0 839.7 1032.9 837.0 1031.6C834.2 1030.4 831.4 1029.3 828.7 1028.0C826.0 1026.7 823.3 1025.4 820.7 1023.8C818.2 1022.3 815.9 1020.2 813.4 1018.6C810.9 1017.0 808.3 1015.5 805.6 1014.2C802.9 1012.9 800.1 1011.9 797.3 1010.8C794.5 1009.8 791.6 1008.9 788.8 1007.9C785.9 1007.0 783.1 1006.0 780.2 1005.1C777.4 1004.2 774.5 1003.4 771.6 1002.5C768.7 1001.6 765.8 1000.8 763.0 999.9C760.1 999.1 757.2 998.4 754.2 997.6C751.3 996.9 748.4 996.1 745.5 995.4C742.6 994.7 739.7 994.0 736.8 993.4C733.8 992.8 730.9 992.2 727.9 991.7C725.0 991.2 722.0 990.7 719.0 990.3C716.1 989.9 713.1 989.5 710.1 989.1C707.1 988.7 704.1 988.3 701.2 987.9C698.2 987.5 695.2 987.1 692.2 986.7C689.3 986.3 686.3 985.9 683.3 985.5C680.3 985.2 677.4 984.8 674.4 984.4C671.4 984.0 668.4 983.6 665.4 983.3C662.5 982.9 659.5 982.6 656.5 982.3C653.5 981.9 650.5 981.6 647.5 981.3C644.6 981.0 641.6 980.6 638.6 980.3C635.6 980.0 632.6 979.6 629.6 979.4C626.7 979.1 623.7 978.8 620.7 978.6C617.7 978.4 614.7 978.2 611.7 978.0C608.7 977.8 605.7 977.7 602.7 977.5C599.7 977.3 596.7 977.2 593.7 977.0C590.7 976.8 587.7 976.6 584.7 976.5C581.7 976.3 578.7 976.1 575.7 975.9C572.7 975.8 569.7 975.6 566.7 975.4C563.7 975.3 560.2 975.2 557.7 975.1C555.2 975.0 552.7 975.0 551.7 974.9" stroke="#ff3434" stroke-width="3.1"/>
<path d="M1089.2 839.7C1090.7 839.4 1095.1 838.3 1098.0 837.6C1100.9 836.8 1103.8 836.1 1106.7 835.4C1109.6 834.7 1112.5 833.9 1115.5 833.2C1118.4 832.5 1121.3 831.8 1124.2 831.1C1127.1 830.5 1130.1 829.8 1133.0 829.2C1135.9 828.5 1138.9 827.9 1141.8 827.3C1144.7 826.6 1147.7 826.0 1150.6 825.4C1153.5 824.7 1156.5 824.1 1159.4 823.5C1162.3 822.8 1165.3 822.1 1168.2 821.5C1171.1 820.8 1174.0 820.1 1177.0 819.4C1179.9 818.8 1182.8 818.1 1185.7 817.4C1188.6 816.7 1191.6 816.0 1194.5 815.3C1197.4 814.6 1200.3 813.9 1203.2 813.2C1206.1 812.4 1209.1 811.7 1211.9 810.8C1214.8 810.0 1217.7 809.1 1220.5 808.2C1223.3 807.2 1226.2 806.1 1228.9 805.0C1231.7 803.9 1234.5 802.7 1237.2 801.5C1240.0 800.3 1242.7 799.0 1245.4 797.7C1248.1 796.4 1250.7 795.0 1253.4 793.6C1256.0 792.2 1258.7 790.8 1261.3 789.3C1263.9 787.8 1266.5 786.3 1269.0 784.7C1271.6 783.1 1274.1 781.5 1276.6 779.7C1279.0 778.0 1281.4 776.2 1283.8 774.4C1286.2 772.6 1288.5 770.7 1290.9 768.8C1293.2 766.9 1295.5 765.0 1297.7 763.0C1300.0 761.1 1302.2 759.0 1304.3 756.9C1306.5 754.9 1308.6 752.7 1310.7 750.6C1312.8 748.4 1314.9 746.3 1317.0 744.1C1319.1 741.9 1321.1 739.8 1323.2 737.6C1325.3 735.5 1327.4 733.3 1329.5 731.2C1331.6 729.0 1333.7 726.9 1335.9 724.8C1338.0 722.7 1340.2 720.6 1342.4 718.5C1344.5 716.5 1346.7 714.4 1348.9 712.4C1351.1 710.4 1353.3 708.3 1355.5 706.3C1357.7 704.2 1359.9 702.2 1362.1 700.2C1364.3 698.1 1366.5 696.1 1368.8 694.1C1371.0 692.1 1373.3 690.1 1375.6 688.2C1377.9 686.3 1380.3 684.5 1382.6 682.6C1385.0 680.8 1387.4 679.0 1389.8 677.1C1392.1 675.3 1394.5 673.4 1396.8 671.5C1399.2 669.7 1401.6 667.8 1404.0 666.1C1406.4 664.3 1408.8 662.5 1411.3 660.8C1413.7 659.1 1416.2 657.4 1418.8 655.8C1421.3 654.2 1423.9 652.6 1426.4 651.1C1429.0 649.6 1431.6 648.1 1434.3 646.7C1436.9 645.2 1439.6 643.8 1442.2 642.5C1444.9 641.1 1447.6 639.7 1450.2 638.4C1452.9 637.0 1455.6 635.7 1458.3 634.4C1461.0 633.1 1463.7 631.8 1466.4 630.5C1469.2 629.2 1471.9 628.0 1474.7 626.8C1477.4 625.6 1480.2 624.4 1482.9 623.2C1485.7 622.1 1488.5 620.9 1491.3 619.8C1494.0 618.7 1496.8 617.6 1499.7 616.6C1502.5 615.5 1505.3 614.5 1508.1 613.5C1510.9 612.5 1513.8 611.5 1516.6 610.6C1519.5 609.7 1522.4 608.8 1525.2 607.9C1528.1 607.0 1531.0 606.1 1533.8 605.3C1536.7 604.4 1539.6 603.5 1542.5 602.7C1545.3 601.8 1548.2 601.0 1551.1 600.1C1554.0 599.3 1556.9 598.4 1559.7 597.6C1562.6 596.7 1565.5 595.8 1568.3 594.9C1571.2 594.0 1574.0 593.0 1576.8 591.9C1579.6 590.9 1582.4 589.8 1585.2 588.7C1588.0 587.5 1590.7 586.4 1593.5 585.2C1596.3 584.1 1599.1 583.0 1601.9 581.9C1604.7 580.8 1607.5 579.7 1610.3 578.6C1613.1 577.5 1615.9 576.5 1618.7 575.4C1621.5 574.3 1624.3 573.3 1627.1 572.2C1629.9 571.1 1632.7 570.1 1635.5 569.0C1638.3 568.0 1641.2 566.9 1644.0 565.9C1646.8 565.0 1649.7 564.0 1652.5 563.1C1655.4 562.2 1658.3 561.4 1661.2 560.6C1664.0 559.7 1666.9 559.0 1669.8 558.2C1672.7 557.4 1675.6 556.6 1678.5 555.8C1681.4 555.0 1684.3 554.2 1687.2 553.4C1690.1 552.6 1693.0 551.8 1695.9 551.0C1698.8 550.2 1701.7 549.4 1704.6 548.6C1707.5 547.8 1710.3 547.0 1713.2 546.1C1716.1 545.3 1719.0 544.4 1721.9 543.6C1724.7 542.7 1727.6 541.9 1730.5 541.1C1733.4 540.2 1736.3 539.4 1739.2 538.6C1742.1 537.8 1745.0 537.0 1747.9 536.3C1750.8 535.5 1753.7 534.7 1756.6 534.0C1759.5 533.2 1762.4 532.5 1765.3 531.7C1768.2 531.0 1771.1 530.3 1774.1 529.7C1777.0 529.0 1779.9 528.3 1782.9 527.8C1785.8 527.2 1788.8 526.6 1791.7 526.1C1794.7 525.6 1797.6 525.2 1800.6 524.7C1803.6 524.3 1806.5 523.9 1809.5 523.5C1812.5 523.1 1815.5 522.7 1818.5 522.3C1821.4 522.0 1824.4 521.6 1827.4 521.3C1830.4 521.0 1833.4 520.7 1836.4 520.4C1839.4 520.2 1842.3 520.0 1845.3 519.8C1848.3 519.6 1851.3 519.4 1854.3 519.3C1857.3 519.1 1860.3 519.0 1863.3 518.9C1866.3 518.8 1869.3 518.7 1872.3 518.7C1875.3 518.6 1878.3 518.6 1881.3 518.5C1884.3 518.5 1887.3 518.5 1890.3 518.5C1893.3 518.5 1896.3 518.5 1899.3 518.5C1902.3 518.5 1905.3 518.5 1908.3 518.5C1911.3 518.5 1914.3 518.5 1917.3 518.5C1920.3 518.6 1923.4 518.6 1926.4 518.6C1929.4 518.7 1932.9 518.7 1935.4 518.8C1937.9 518.8 1940.4 518.9 1941.4 518.9L1936.2 532.5C1935.6 533.9 1933.9 538.1 1932.6 540.8C1931.3 543.5 1929.8 546.1 1928.3 548.7C1926.8 551.3 1925.2 553.8 1923.4 556.2C1921.7 558.7 1919.9 561.1 1918.1 563.4C1916.2 565.8 1914.2 568.0 1912.2 570.3C1910.2 572.5 1908.2 574.7 1906.1 576.9C1904.1 579.1 1902.0 581.2 1899.9 583.4C1897.8 585.5 1895.7 587.7 1893.5 589.8C1891.4 591.9 1889.3 594.0 1887.1 596.1C1884.9 598.1 1882.7 600.2 1880.5 602.2C1878.2 604.2 1876.0 606.1 1873.7 608.1C1871.4 610.0 1869.1 611.9 1866.8 613.9C1864.5 615.8 1862.2 617.7 1859.8 619.6C1857.5 621.4 1855.1 623.3 1852.8 625.2C1850.4 627.0 1848.0 628.8 1845.6 630.6C1843.2 632.3 1840.7 634.0 1838.2 635.8C1835.8 637.5 1833.3 639.1 1830.8 640.8C1828.3 642.5 1825.8 644.1 1823.3 645.8C1820.8 647.4 1818.3 649.1 1815.7 650.7C1813.2 652.3 1810.7 653.9 1808.1 655.5C1805.6 657.1 1803.0 658.6 1800.4 660.1C1797.8 661.6 1795.1 663.0 1792.5 664.5C1789.9 666.0 1787.3 667.5 1784.7 669.0C1782.1 670.5 1779.5 672.0 1777.0 673.5C1774.4 675.0 1771.8 676.5 1769.1 678.0C1766.5 679.4 1763.9 680.8 1761.2 682.2C1758.5 683.6 1755.8 684.9 1753.1 686.2C1750.4 687.5 1747.7 688.8 1745.0 690.0C1742.3 691.3 1739.5 692.6 1736.8 693.8C1734.1 695.0 1731.3 696.2 1728.5 697.4C1725.8 698.5 1723.0 699.7 1720.2 700.8C1717.4 701.9 1714.7 703.0 1711.9 704.1C1709.1 705.3 1706.3 706.4 1703.5 707.5C1700.7 708.6 1697.9 709.7 1695.2 710.8C1692.4 712.0 1689.6 713.1 1686.8 714.2C1684.0 715.3 1681.2 716.4 1678.4 717.5C1675.6 718.5 1672.8 719.5 1669.9 720.5C1667.1 721.5 1664.2 722.3 1661.4 723.3C1658.5 724.2 1655.7 725.1 1652.8 726.0C1650.0 726.9 1647.1 727.9 1644.3 728.8C1641.4 729.8 1638.6 730.8 1635.7 731.7C1632.9 732.6 1630.0 733.5 1627.2 734.4C1624.3 735.3 1621.4 736.2 1618.5 737.0C1615.7 737.9 1612.8 738.8 1609.9 739.6C1607.1 740.5 1604.2 741.4 1601.3 742.3C1598.4 743.1 1595.6 744.0 1592.7 744.8C1589.8 745.7 1586.9 746.5 1584.0 747.3C1581.2 748.2 1578.3 749.0 1575.4 749.9C1572.5 750.8 1569.7 751.7 1566.8 752.6C1563.9 753.4 1561.1 754.3 1558.2 755.2C1555.3 756.1 1552.5 757.0 1549.6 757.9C1546.7 758.8 1543.9 759.7 1541.0 760.6C1538.2 761.5 1535.3 762.4 1532.5 763.3C1529.6 764.3 1526.8 765.3 1523.9 766.3C1521.1 767.2 1518.3 768.2 1515.4 769.2C1512.6 770.2 1509.8 771.2 1506.9 772.2C1504.1 773.2 1501.3 774.2 1498.5 775.2C1495.6 776.2 1492.8 777.3 1490.0 778.3C1487.2 779.4 1484.4 780.5 1481.6 781.6C1478.9 782.8 1476.1 784.0 1473.4 785.2C1470.6 786.4 1467.9 787.7 1465.2 789.0C1462.5 790.2 1459.8 791.5 1457.1 792.9C1454.4 794.2 1451.7 795.5 1449.1 796.9C1446.4 798.4 1443.8 799.8 1441.2 801.4C1438.6 802.9 1436.1 804.5 1433.6 806.1C1431.0 807.7 1428.5 809.4 1426.0 811.0C1423.5 812.6 1421.0 814.3 1418.5 815.9C1416.0 817.6 1413.5 819.2 1411.0 820.9C1408.5 822.6 1406.0 824.3 1403.6 826.0C1401.1 827.7 1398.7 829.5 1396.3 831.3C1393.9 833.1 1391.5 834.9 1389.1 836.7C1386.7 838.5 1384.3 840.3 1381.9 842.1C1379.5 843.9 1377.1 845.7 1374.7 847.6C1372.4 849.4 1370.0 851.3 1367.7 853.2C1365.4 855.1 1363.2 857.1 1360.9 859.1C1358.7 861.0 1356.4 863.1 1354.2 865.0C1351.9 867.0 1349.7 869.0 1347.4 871.0C1345.2 873.0 1342.9 874.9 1340.6 876.9C1338.3 878.8 1336.0 880.8 1333.7 882.7C1331.4 884.6 1329.1 886.5 1326.8 888.4C1324.4 890.3 1322.1 892.1 1319.8 894.0C1317.4 895.9 1315.1 897.8 1312.8 899.7C1310.5 901.6 1308.2 903.6 1305.9 905.5C1303.6 907.4 1301.3 909.4 1299.0 911.3C1296.7 913.2 1294.4 915.1 1292.0 917.0C1289.7 918.8 1287.3 920.7 1284.9 922.5C1282.5 924.3 1280.1 926.1 1277.6 927.8C1275.2 929.6 1272.7 931.3 1270.3 933.0C1267.8 934.6 1265.3 936.3 1262.7 937.9C1260.2 939.5 1257.6 941.0 1255.0 942.5C1252.4 943.9 1249.7 945.3 1247.1 946.7C1244.4 948.1 1241.7 949.4 1239.0 950.7C1236.3 952.0 1233.5 953.2 1230.8 954.5C1228.1 955.7 1225.3 956.9 1222.6 958.1C1219.8 959.3 1217.1 960.5 1214.3 961.6C1211.5 962.8 1208.7 963.9 1205.9 965.0C1203.1 966.1 1200.3 967.1 1197.5 968.2C1194.7 969.2 1191.9 970.3 1189.1 971.3C1186.3 972.4 1183.5 973.4 1180.7 974.6C1177.9 975.7 1175.1 976.9 1172.4 978.1C1169.7 979.3 1167.0 980.6 1164.3 981.9C1161.6 983.2 1158.9 984.6 1156.3 986.0C1153.6 987.4 1151.0 988.9 1148.3 990.3C1145.7 991.7 1143.0 993.1 1140.4 994.5C1137.7 995.9 1135.0 997.2 1132.4 998.6C1129.7 1000.0 1127.0 1001.3 1124.4 1002.7C1121.7 1004.1 1119.1 1005.5 1116.4 1007.0C1113.8 1008.4 1111.2 1009.8 1108.5 1011.3C1105.9 1012.7 1103.3 1014.2 1100.6 1015.6C1098.0 1017.1 1095.4 1018.5 1092.8 1020.0C1090.1 1021.4 1087.5 1022.9 1084.9 1024.3C1082.2 1025.8 1079.6 1027.2 1077.0 1028.7C1074.4 1030.1 1071.7 1031.6 1069.1 1033.0C1066.5 1034.5 1063.9 1035.9 1061.2 1037.3C1058.6 1038.8 1056.0 1040.2 1053.3 1041.6C1050.7 1043.1 1048.0 1044.5 1045.3 1045.8C1042.7 1047.2 1040.0 1048.6 1037.3 1049.9C1034.6 1051.2 1031.9 1052.5 1029.2 1053.8C1026.5 1055.1 1023.8 1056.3 1021.0 1057.5C1018.3 1058.7 1015.5 1059.9 1012.7 1061.0C1009.9 1062.1 1007.1 1063.2 1004.3 1064.2C1001.5 1065.3 998.7 1066.2 995.8 1067.2C993.0 1068.2 990.1 1069.1 987.3 1070.0C984.4 1070.9 981.5 1071.9 978.7 1072.7C975.8 1073.5 972.9 1074.3 970.0 1075.1C967.1 1075.8 964.1 1076.5 961.2 1077.1C958.3 1077.7 955.3 1078.2 952.4 1078.7C949.4 1079.1 946.4 1079.5 943.4 1079.8C940.4 1080.1 937.5 1080.3 934.5 1080.5C931.5 1080.6 928.5 1080.7 925.5 1080.6C922.5 1080.6 919.5 1080.5 916.5 1080.2C913.5 1080.0 910.5 1079.7 907.5 1079.3C904.6 1078.8 901.6 1078.3 898.7 1077.7C895.8 1077.1 892.9 1076.3 890.0 1075.6C887.1 1074.8 884.2 1073.9 881.3 1073.0C878.5 1072.1 875.6 1071.1 872.8 1070.1C870.0 1069.2 867.1 1068.2 864.3 1067.1C861.5 1066.1 858.7 1065.0 855.9 1064.0C853.1 1062.9 850.3 1061.8 847.5 1060.7C844.7 1059.6 841.9 1058.4 839.2 1057.3C836.4 1056.1 833.7 1054.9 830.9 1053.7C828.2 1052.5 825.4 1051.3 822.7 1050.1C819.9 1048.9 817.2 1047.7 814.4 1046.4C811.7 1045.2 809.0 1044.0 806.2 1042.7C803.5 1041.5 800.8 1040.2 798.1 1038.9C795.4 1037.6 792.7 1036.3 789.9 1035.1C787.2 1033.8 784.5 1032.5 781.8 1031.2C779.1 1030.0 776.3 1028.7 773.6 1027.5C770.9 1026.2 768.1 1025.0 765.4 1023.8C762.7 1022.5 759.9 1021.3 757.2 1020.1C754.5 1018.8 751.7 1017.6 749.0 1016.4C746.3 1015.1 743.5 1013.9 740.8 1012.6C738.1 1011.4 735.3 1010.2 732.6 1009.0C729.8 1007.8 727.1 1006.6 724.3 1005.5C721.5 1004.4 718.7 1003.3 715.9 1002.2C713.1 1001.1 710.3 1000.0 707.5 998.9C704.7 997.8 702.0 996.7 699.2 995.6C696.4 994.5 693.6 993.4 690.8 992.3C688.0 991.2 685.2 990.0 682.4 989.0C679.6 987.9 676.8 986.8 674.0 985.8C671.2 984.8 668.3 983.8 665.5 982.9C662.6 981.9 659.8 981.1 656.9 980.2C654.0 979.3 651.2 978.5 648.3 977.6C645.4 976.7 642.5 975.9 639.7 975.0C636.8 974.1 633.9 973.3 631.0 972.5C628.1 971.6 625.2 970.9 622.3 970.1C619.4 969.4 616.5 968.7 613.6 968.0C610.7 967.3 607.7 966.7 604.8 966.0C601.9 965.4 598.9 964.7 596.0 964.1C593.1 963.5 590.1 962.9 587.2 962.3C584.2 961.7 581.3 961.1 578.4 960.6C575.4 960.0 572.5 959.5 569.5 959.0C566.5 958.4 563.6 957.9 560.6 957.4C557.7 957.0 553.2 956.3 551.7 956.0L558.8 950.5C560.1 949.7 563.8 947.2 566.5 945.8C569.1 944.4 571.9 943.3 574.6 942.1C577.4 940.9 580.2 939.8 583.0 938.7C585.8 937.6 588.6 936.6 591.4 935.5C594.2 934.4 597.0 933.4 599.8 932.3C602.7 931.3 605.5 930.2 608.3 929.1C611.1 928.1 613.9 927.0 616.7 926.0C619.6 925.0 622.4 924.1 625.3 923.2C628.1 922.3 631.0 921.5 633.9 920.7C636.8 919.9 639.7 919.2 642.6 918.4C645.5 917.7 648.4 916.9 651.4 916.2C654.3 915.4 657.2 914.7 660.1 913.9C663.0 913.2 665.9 912.5 668.8 911.8C671.8 911.1 674.7 910.5 677.6 909.9C680.6 909.3 683.5 908.8 686.5 908.2C689.4 907.6 692.4 907.1 695.3 906.5C698.3 906.0 701.2 905.4 704.2 904.9C707.1 904.3 710.1 903.8 713.0 903.2C716.0 902.6 718.9 902.1 721.9 901.5C724.8 900.9 727.8 900.4 730.7 899.8C733.7 899.2 736.6 898.6 739.6 898.0C742.5 897.5 745.5 896.9 748.4 896.4C751.4 895.9 754.3 895.4 757.3 894.9C760.3 894.5 763.2 894.0 766.2 893.5C769.2 893.0 772.1 892.6 775.1 892.1C778.1 891.6 781.0 891.2 784.0 890.7C787.0 890.2 789.9 889.7 792.9 889.3C795.9 888.8 798.8 888.3 801.8 887.9C804.8 887.4 807.7 886.9 810.7 886.5C813.7 886.0 816.6 885.5 819.6 885.1C822.6 884.6 825.5 884.1 828.5 883.7C831.5 883.2 834.4 882.7 837.4 882.3C840.4 881.8 843.3 881.3 846.3 880.8C849.3 880.3 852.2 879.8 855.2 879.3C858.1 878.8 861.1 878.3 864.0 877.7C867.0 877.2 869.9 876.7 872.9 876.1C875.9 875.6 878.8 875.1 881.8 874.5C884.7 874.0 887.7 873.5 890.6 872.9C893.6 872.4 896.5 871.8 899.5 871.2C902.4 870.6 905.4 870.1 908.3 869.5C911.3 868.8 914.2 868.2 917.1 867.6C920.1 867.0 923.0 866.4 925.9 865.7C928.9 865.1 931.8 864.5 934.8 863.9C937.7 863.3 940.6 862.7 943.6 862.1C946.5 861.5 949.5 860.9 952.4 860.3C955.3 859.7 958.3 859.0 961.2 858.4C964.2 857.8 967.1 857.2 970.1 856.7C973.0 856.1 975.9 855.5 978.9 854.9C981.8 854.3 984.8 853.7 987.7 853.1C990.7 852.6 993.6 852.0 996.6 851.4C999.5 850.8 1002.5 850.3 1005.4 849.7C1008.4 849.1 1011.3 848.6 1014.3 848.0C1017.2 847.4 1020.2 846.9 1023.1 846.3C1026.1 845.7 1029.0 845.2 1032.0 844.6C1034.9 844.0 1037.9 843.5 1040.8 842.9C1043.8 842.4 1046.7 841.9 1049.7 841.4C1052.6 840.9 1055.6 840.4 1058.6 839.9C1061.5 839.5 1064.5 839.1 1067.5 838.6C1070.5 838.2 1073.4 837.8 1076.4 837.3C1079.4 836.9 1083.3 836.3 1085.3 836.0C1087.3 835.7 1087.8 835.7 1088.3 835.6" stroke="#0066e0" stroke-width="3.4"/>
</g>
<g fill="#000" shape-rendering="crispEdges">
<rect x="338" y="29" width="7" height="1466"/>
<rect x="312" y="1488" width="1845" height="7"/>
<rect x="327" y="1419.0" width="13" height="7"/>
<rect x="312" y="1349.5" width="28" height="7"/>
<rect x="327" y="1280.0" width="13" height="7"/>
<rect x="312" y="1210.5" width="28" height="7"/>
<rect x="327" y="1141.0" width="13" height="7"/>
<rect x="312" y="1071.5" width="28" height="7"/>
<rect x="327" y="1002.0" width="13" height="7"/>
<rect x="312" y="932.5" width="28" height="7"/>
<rect x="327" y="863.0" width="13" height="7"/>
<rect x="312" y="793.5" width="28" height="7"/>
<rect x="327" y="724.0" width="13" height="7"/>
<rect x="312" y="654.5" width="28" height="7"/>
<rect x="327" y="585.0" width="13" height="7"/>
<rect x="312" y="515.5" width="28" height="7"/>
<rect x="327" y="446.0" width="13" height="7"/>
<rect x="312" y="376.5" width="28" height="7"/>
<rect x="327" y="307.0" width="13" height="7"/>
<rect x="312" y="237.5" width="28" height="7"/>
<rect x="327" y="168.0" width="13" height="7"/>
<rect x="312" y="98.5" width="28" height="7"/>
<rect x="327" y="29.0" width="13" height="7"/>
<rect x="337.9" y="1492" width="7" height="14"/>
<rect x="444.5" y="1492" width="7" height="29"/>
<rect x="551.1" y="1492" width="7" height="14"/>
<rect x="657.7" y="1492" width="7" height="29"/>
<rect x="764.3" y="1492" width="7" height="14"/>
<rect x="870.9" y="1492" width="7" height="29"/>
<rect x="977.4" y="1492" width="7" height="14"/>
<rect x="1084.0" y="1492" width="7" height="29"/>
<rect x="1190.6" y="1492" width="7" height="14"/>
<rect x="1297.2" y="1492" width="7" height="29"/>
<rect x="1403.8" y="1492" width="7" height="14"/>
<rect x="1510.4" y="1492" width="7" height="29"/>
<rect x="1617.0" y="1492" width="7" height="14"/>
<rect x="1723.6" y="1492" width="7" height="29"/>
<rect x="1830.2" y="1492" width="7" height="14"/>
<rect x="1936.8" y="1492" width="7" height="29"/>
<rect x="2043.3" y="1492" width="7" height="14"/>
<rect x="2149.9" y="1492" width="7" height="29"/>
</g>
<g font-size="64">
<text transform="translate(292.0,1511.0) scale(0.94,1)" text-anchor="end">-1000</text>
<text transform="translate(292.0,1372.0) scale(0.94,1)" text-anchor="end">-800</text>
<text transform="translate(292.0,1233.0) scale(0.94,1)" text-anchor="end">-600</text>
<text transform="translate(292.0,1094.0) scale(0.94,1)" text-anchor="end">-400</text>
<text transform="translate(292.0,955.0) scale(0.94,1)" text-anchor="end">-200</text>
<text transform="translate(292.0,816.0) scale(0.94,1)" text-anchor="end">0</text>
<text transform="translate(292.0,677.0) scale(0.94,1)" text-anchor="end">200</text>
<text transform="translate(292.0,538.0) scale(0.94,1)" text-anchor="end">400</text>
<text transform="translate(292.0,399.0) scale(0.94,1)" text-anchor="end">600</text>
<text transform="translate(292.0,260.0) scale(0.94,1)" text-anchor="end">800</text>
<text transform="translate(292.0,121.0) scale(0.94,1)" text-anchor="end">1000</text>
<text transform="translate(447.4,1589.2) scale(0.94,1)" text-anchor="middle">-0.6</text>
<text transform="translate(660.6,1589.2) scale(0.94,1)" text-anchor="middle">-0.4</text>
<text transform="translate(873.8,1589.2) scale(0.94,1)" text-anchor="middle">-0.2</text>
<text transform="translate(1086.9,1589.2) scale(0.94,1)" text-anchor="middle">0.0</text>
<text transform="translate(1300.1,1589.2) scale(0.94,1)" text-anchor="middle">0.2</text>
<text transform="translate(1513.3,1589.2) scale(0.94,1)" text-anchor="middle">0.4</text>
<text transform="translate(1726.5,1589.2) scale(0.94,1)" text-anchor="middle">0.6</text>
<text transform="translate(1939.7,1589.2) scale(0.94,1)" text-anchor="middle">0.8</text>
<text transform="translate(2152.8,1589.2) scale(0.94,1)" text-anchor="middle">1.0</text>
</g>
<g font-size="79.5">
<text transform="translate(967.7,1705.5) scale(0.9513,1)" >E /V</text>
<text transform="translate(1133.5,1705.5) scale(0.9400,1)" font-style="italic">vs.</text>
<text transform="translate(1250,1705.5) scale(0.9569,1)" >Ag/AgCl</text>
</g>
<g font-size="79.5" transform="translate(93,867) rotate(-90)">
<text transform="translate(-6,0) scale(0.9400,1)" >I</text>
<text transform="translate(37,0) scale(0.9400,1)" >/</text>
<text transform="translate(56.5,0) scale(1.0810,1)" style="stroke-width:0.3px">μ</text>
<text transform="translate(101,0) scale(0.9400,1)" >A</text>
</g>
<rect x="422.2" y="145.2" width="904.6" height="212.6" fill="#fff" stroke="#000" stroke-width="2.6"/>
<g><rect x="428" y="182" width="126" height="3" fill="#707070"/>
<rect x="428" y="249.6" width="126" height="2.4" fill="#ff3434"/>
<rect x="428" y="317.8" width="126" height="3.2" fill="#0066e0"/></g>
<g font-size="57.8">
<text transform="translate(553.5,203) scale(0.9400,1)" >GCE</text>
<text transform="translate(553.5,270.4) scale(0.9597,1)" >1 mg/mL CNTs/CS5 %/GCE</text>
<text transform="translate(553.5,337.6) scale(0.9475,1)" >20 mg/mL</text>
<text transform="translate(812.6,337.6) scale(0.9795,1)" >CNTs/CS</text>
<text transform="translate(1060.7,337.6) scale(0.9438,1)" >0.5%/GCE</text>
</g>
</svg></body></html>
